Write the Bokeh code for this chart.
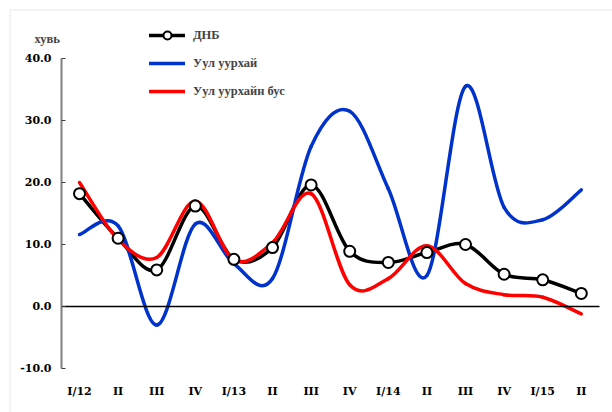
from bokeh.plotting import figure
from bokeh.models import (Range1d, FixedTicker, Label, Legend, LegendItem, LinearAxis,
                          NumeralTickFormatter, ColumnDataSource, BoxAnnotation)
from bokeh.embed import file_html
from bokeh.resources import INLINE

categories = ["I/12", "II", "III", "IV", "I/13", "II", "III", "IV",
              "I/14", "II", "III", "IV", "I/15", "II"]
dnb = [18.2, 11.0, 5.9, 16.2, 7.6, 9.5, 19.6, 8.9, 7.1, 8.7, 10.0, 5.2, 4.3, 2.1]
mining = [11.6, 13.0, -3.0, 13.3, 6.9, 4.5, 25.8, 31.5, 19.0, 5.0, 35.5, 16.0, 14.0, 18.8]
non_mining = [20.0, 10.8, 7.9, 17.0, 7.5, 10.3, 18.2, 3.5, 4.5, 9.8, 3.7, 1.9, 1.5, -1.2]
y_ticks = [-10, 0, 10, 20, 30, 40]
series_names = ["ДНБ", "Уул уурхай", "Уул уурхайн бус"]
y_unit = "хувь"

FONT = "DejaVu Serif"
FONT2 = "Liberation Serif"
X_LO, X_HI = -2.047, 13.808
Y_LO, Y_HI = -17.10, 49.35
AX_X = -0.466
AX_XR = 13.47

def bezier_source(vals):
    n = len(vals)
    xs = list(range(n))
    d = dict(x0=[], y0=[], x1=[], y1=[], cx0=[], cy0=[], cx1=[], cy1=[])
    for i in range(n - 1):
        ip = i - 1 if i > 0 else i
        i2 = i + 2 if i + 2 < n else i + 1
        d["x0"].append(xs[i]); d["y0"].append(vals[i])
        d["x1"].append(xs[i + 1]); d["y1"].append(vals[i + 1])
        d["cx0"].append(xs[i] + (xs[i + 1] - xs[ip]) / 6)
        d["cy0"].append(vals[i] + (vals[i + 1] - vals[ip]) / 6)
        d["cx1"].append(xs[i + 1] - (xs[i2] - xs[i]) / 6)
        d["cy1"].append(vals[i + 1] - (vals[i2] - vals[i]) / 6)
    return ColumnDataSource(d)

p = figure(width=612, height=412, output_backend="svg", toolbar_location=None,
           x_range=Range1d(X_LO, X_HI), y_range=Range1d(Y_LO, Y_HI),
           min_border=0, x_axis_location=None, y_axis_location=None)
p.outline_line_color = None
p.grid.visible = False
p.background_fill_color = "white"
p.border_fill_color = "white"

# chart-area border (top and left visible)
p.add_layout(BoxAnnotation(left=-1.80, top=47.82, right=30, bottom=-40,
                           fill_alpha=0, line_color="#d9d9d9", line_width=2))

# y axis
ya = LinearAxis(fixed_location=AX_X, bounds=(-10, 40))
ya.ticker = FixedTicker(ticks=y_ticks)
ya.formatter = NumeralTickFormatter(format="0.0")
ya.axis_line_color = "#808080"
ya.axis_line_width = 2
ya.major_tick_in = 4
ya.major_tick_out = 0
ya.major_tick_line_color = "#404040"
ya.minor_tick_line_color = None
ya.major_label_text_font = FONT
ya.major_label_text_font_style = "bold"
ya.major_label_text_font_size = "11px"
ya.major_label_text_color = "black"
ya.major_label_standoff = 10
p.add_layout(ya, "left")

# zero line (horizontal axis line)
za = LinearAxis(fixed_location=0, bounds=(AX_X, AX_XR))
za.ticker = FixedTicker(ticks=[])
za.axis_line_color = "black"
za.axis_line_width = 1.5
za.major_tick_line_color = None
za.minor_tick_line_color = None
za.major_label_text_font_size = "0px"
p.add_layout(za, "below")

# category labels
xa = LinearAxis(fixed_location=-10)
xa.ticker = FixedTicker(ticks=list(range(len(categories))))
xa.major_label_overrides = {i: c for i, c in enumerate(categories)}
xa.axis_line_color = None
xa.major_tick_line_color = None
xa.minor_tick_line_color = None
xa.major_label_text_font = FONT
xa.major_label_text_font_style = "bold"
xa.major_label_text_font_size = "11px"
xa.major_label_text_color = "black"
xa.major_label_standoff = 11
p.add_layout(xa, "below")

r_dnb = p.bezier(x0="x0", y0="y0", x1="x1", y1="y1", cx0="cx0", cy0="cy0",
                 cx1="cx1", cy1="cy1", source=bezier_source(dnb),
                 line_color="black", line_width=3.5, line_cap="round")
r_min = p.bezier(x0="x0", y0="y0", x1="x1", y1="y1", cx0="cx0", cy0="cy0",
                 cx1="cx1", cy1="cy1", source=bezier_source(mining),
                 line_color="#0033CC", line_width=3.5, line_cap="round")
r_non = p.bezier(x0="x0", y0="y0", x1="x1", y1="y1", cx0="cx0", cy0="cy0",
                 cx1="cx1", cy1="cy1", source=bezier_source(non_mining),
                 line_color="#FF0000", line_width=3.5, line_cap="round")
r_mk = p.scatter(x=list(range(len(dnb))), y=dnb, size=11, marker="circle",
                 fill_color="white", line_color="black", line_width=2)

legend = Legend(items=[LegendItem(label=series_names[0], renderers=[r_dnb, r_mk]),
                       LegendItem(label=series_names[1], renderers=[r_min]),
                       LegendItem(label=series_names[2], renderers=[r_non])],
                location=(149, 311), padding=0, margin=0, spacing=8,
                glyph_width=36, glyph_height=20, label_height=20,
                label_standoff=8, background_fill_alpha=0,
                border_line_color=None,
                label_text_font=FONT2, label_text_font_style="bold",
                label_text_font_size="12.5px")
p.add_layout(legend, "center")

p.add_layout(Label(x=-0.84, y=43.2, text=y_unit, text_font=FONT2,
                   text_font_style="bold", text_font_size="12.5px",
                   text_align="center", text_baseline="middle"))

open("out.html", "w").write(file_html(p, INLINE))
